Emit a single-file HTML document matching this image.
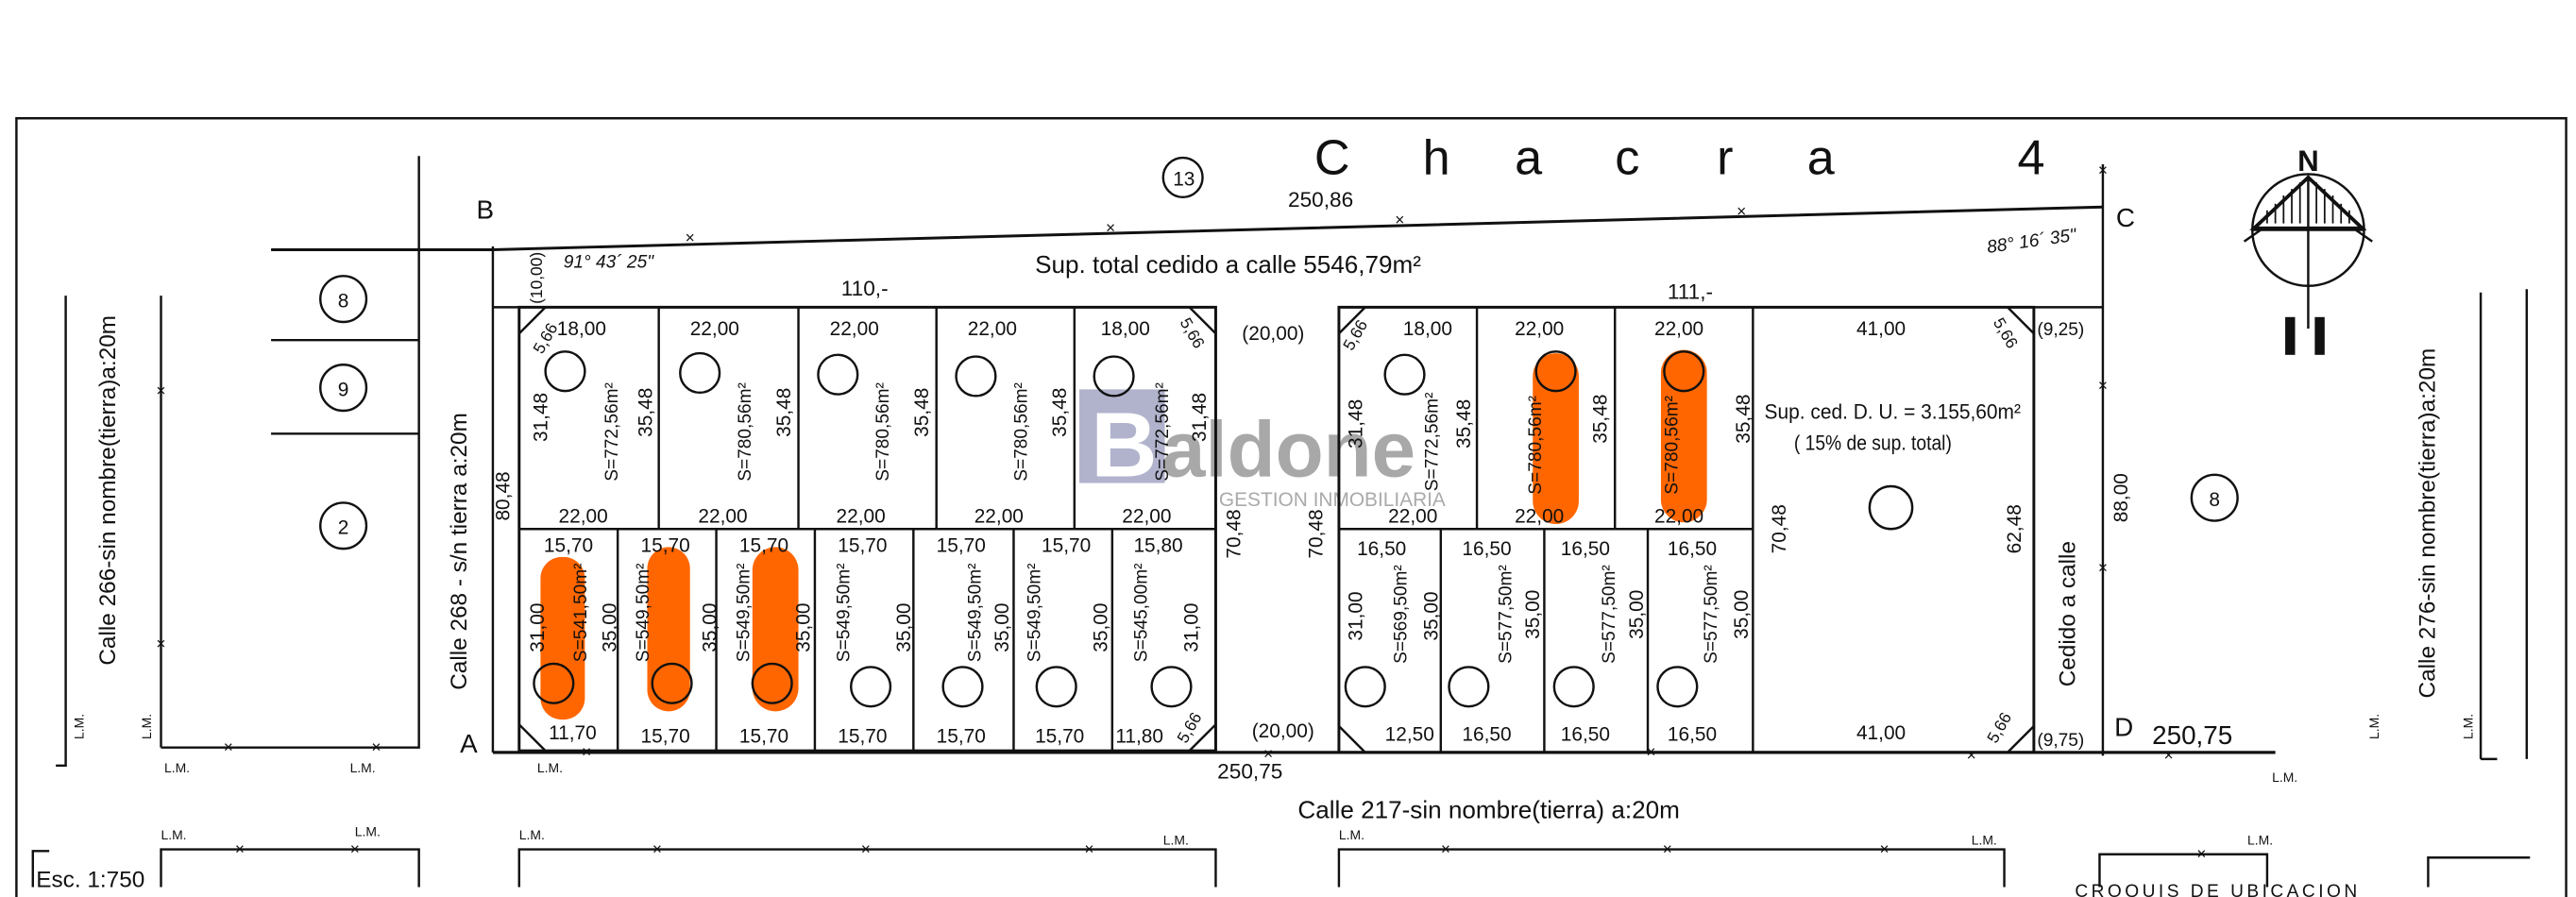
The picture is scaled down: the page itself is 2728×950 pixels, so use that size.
<!DOCTYPE html>
<html><head><meta charset="utf-8"><style>
html,body{margin:0;padding:0;background:#fff;}
svg{display:block;}
text{font-family:"Liberation Sans",sans-serif;fill:#111;}
</style></head><body>
<svg width="2728" height="950" viewBox="0 0 1568 546" preserveAspectRatio="none" xmlns="http://www.w3.org/2000/svg">
<!-- orange pills (under lines) -->
<g fill="#ff6600">
<rect x="329" y="339" width="27" height="99" rx="13"/><rect x="394" y="333" width="26" height="100" rx="13"/><rect x="458" y="333" width="28" height="100" rx="14"/>
<rect x="933" y="215" width="28" height="104" rx="14"/><rect x="1011" y="213" width="28" height="105" rx="14"/>
</g>
<!-- watermark -->
<rect x="657" y="237" width="52" height="57" fill="#9da0c0" opacity="0.8"/>
<text x="664" y="290" font-size="56" font-weight="bold" style="fill:#fff">B</text>
<text x="707" y="290" font-size="48" font-weight="bold" style="fill:#999" opacity="0.85">aldone</text>
<text x="742" y="308" font-size="12" style="fill:#aaa">GESTION INMOBILIARIA</text>
<g stroke="#111" fill="none" stroke-width="1.4">
<path d="M10 546 V72 H1562 V546"/>
<path d="M165 152 H300 L1280 126" stroke-width="1.7"/>
<path d="M300 150 V458"/>
<path d="M300 187 H740 M815 187 H1238"/>
<rect x="316" y="187" width="424" height="270" stroke-width="1.7"/>
<path d="M316 322 H740 M401 187 V322 M486 187 V322 M570 187 V322 M654 187 V322"/>
<path d="M376 322 V457 M436 322 V457 M496 322 V457 M556 322 V457 M617 322 V457 M677 322 V457"/>
<path d="M316 203 L332 187 M724 187 L740 203 M316 441 L332 457 M724 457 L740 441"/>
<rect x="815" y="187" width="423" height="271" stroke-width="1.7"/>
<path d="M815 322 H1067 M1067 187 V458 M899 187 V322 M983 187 V322"/>
<path d="M877 322 V458 M940 322 V458 M1003 322 V458"/>
<path d="M815 203 L831 187 M1222 187 L1238 203 M815 442 L831 458 M1222 458 L1238 442"/>
<path d="M1238 187 H1280 M1280 100 V460"/>
<path d="M300 458 H1385" stroke-width="1.9"/>
<path d="M98 455 H255 V95 M98 180 V455 M40 180 V466 H34"/>
<path d="M165 207 H255 M165 264 H255"/>
<path d="M1510 178 V462 M1510 462 H1520 M1538 176 V462"/>
<path d="M30 518 H20 V540 M98 540 V517 H255 V540 M316 540 V517 H740 V540 M815 540 V517 H1220 V540 M1278 540 V520 H1380 V540 M1478 540 V522 H1540"/>
<circle cx="344" cy="226" r="12"/><circle cx="426" cy="227" r="12"/><circle cx="510" cy="228" r="12"/><circle cx="594" cy="229" r="12"/><circle cx="678" cy="229" r="12"/>
<circle cx="337" cy="416" r="12"/><circle cx="409" cy="416" r="12"/><circle cx="470" cy="416" r="12"/><circle cx="530" cy="418" r="12"/><circle cx="586" cy="418" r="12"/><circle cx="643" cy="418" r="12"/><circle cx="713" cy="418" r="12"/>
<circle cx="855" cy="228" r="12"/><circle cx="947" cy="226" r="12"/><circle cx="1025" cy="226" r="12"/><circle cx="1151" cy="309" r="13"/>
<circle cx="831" cy="418" r="12"/><circle cx="894" cy="418" r="12"/><circle cx="958" cy="418" r="12"/><circle cx="1021" cy="418" r="12"/>
<circle cx="720" cy="108" r="12"/><circle cx="209" cy="182" r="14"/><circle cx="209" cy="236" r="14"/><circle cx="209" cy="320" r="14"/><circle cx="1348" cy="303" r="14"/>
<circle cx="1405" cy="140" r="34"/>
<path d="M1405 107 V200 M1366 147 L1376 140 M1444 147 L1434 140 M1371 140 H1439"/>
<path d="M1380 136 V128 M1385 136 V124 M1390 136 V119 M1395 136 V115 M1400 136 V111 M1410 136 V111 M1415 136 V115 M1420 136 V119 M1425 136 V124 M1430 136 V128" stroke-width="1"/>
<path d="M1405 108 L1372 139 H1438 Z" stroke-width="2.2"/>
</g>
<rect x="1391" y="193" width="6" height="23" fill="#111"/><rect x="1409" y="193" width="6" height="23" fill="#111"/>
<text x="1405" y="104" font-size="18" font-weight="bold" text-anchor="middle">N</text>
<g font-size="10" text-anchor="middle">
<text x="420" y="148">×</text><text x="676" y="142">×</text><text x="852" y="137">×</text><text x="1060" y="132">×</text><text x="1280" y="107">×</text>
<text x="1280" y="238">×</text><text x="1280" y="349">×</text>
<text x="98" y="241">×</text><text x="98" y="395">×</text><text x="139" y="458">×</text><text x="229" y="458">×</text>
<text x="357" y="461">×</text><text x="772" y="462">×</text><text x="1005" y="461">×</text><text x="1200" y="463">×</text><text x="1320" y="463">×</text>
<text x="146" y="520">×</text><text x="216" y="520">×</text><text x="400" y="520">×</text><text x="527" y="520">×</text><text x="663" y="520">×</text>
<text x="880" y="520">×</text><text x="1015" y="520">×</text><text x="1147" y="520">×</text><text x="1340" y="523">×</text>
</g>
<g font-size="30">
<text x="800" y="106">C</text><text x="866" y="106">h</text><text x="922" y="106">a</text><text x="983" y="106">c</text><text x="1045" y="106">r</text><text x="1100" y="106">a</text><text x="1228" y="106">4</text>
</g>
<text x="714" y="113" font-size="12">13</text>
<text x="290" y="133" font-size="16">B</text><text x="1288" y="138" font-size="16">C</text><text x="280" y="458" font-size="16">A</text><text x="1287" y="448" font-size="16">D</text>
<text x="784" y="126" font-size="13">250,86</text>
<text x="630" y="166" font-size="15">Sup. total cedido a calle 5546,79m²</text>
<text x="343" y="163" font-size="11" font-style="italic">91° 43´ 25"</text>
<text x="1210" y="154" font-size="11" font-style="italic" transform="rotate(-8 1210 154)">88° 16´ 35"</text>
<text transform="translate(330,185) rotate(-90)" font-size="10">(10,00)</text>
<text x="512" y="180" font-size="13">110,-</text><text x="1015" y="182" font-size="13">111,-</text>
<text x="756" y="207" font-size="12">(20,00)</text><text x="762" y="449" font-size="12">(20,00)</text>
<text x="741" y="474" font-size="13">250,75</text><text x="1310" y="453" font-size="16">250,75</text>
<text x="1240" y="204" font-size="11">(9,25)</text><text x="1240" y="454" font-size="11">(9,75)</text>
<text x="790" y="498" font-size="15">Calle 217-sin nombre(tierra) a:20m</text>
<text x="22" y="540" font-size="14">Esc. 1:750</text>
<text x="1263" y="546" font-size="11" letter-spacing="2">CROQUIS DE UBICACION</text>
<text x="1074" y="255" font-size="13" textLength="156" lengthAdjust="spacingAndGlyphs">Sup. ced.  D. U. = 3.155,60m²</text>
<text x="1092" y="274" font-size="13" textLength="96" lengthAdjust="spacingAndGlyphs">( 15% de sup. total)</text>
<g font-size="12">
<text x="1130" y="204">41,00</text><text x="1130" y="450">41,00</text>
<text x="339" y="204">18,00</text><text x="420" y="204">22,00</text><text x="505" y="204">22,00</text><text x="589" y="204">22,00</text><text x="670" y="204">18,00</text>
<text x="340" y="318">22,00</text><text x="425" y="318">22,00</text><text x="509" y="318">22,00</text><text x="593" y="318">22,00</text><text x="683" y="318">22,00</text>
<text x="331" y="336">15,70</text><text x="390" y="336">15,70</text><text x="450" y="336">15,70</text><text x="510" y="336">15,70</text><text x="570" y="336">15,70</text><text x="634" y="336">15,70</text><text x="690" y="336">15,80</text>
<text x="334" y="450">11,70</text><text x="390" y="452">15,70</text><text x="450" y="452">15,70</text><text x="510" y="452">15,70</text><text x="570" y="452">15,70</text><text x="630" y="452">15,70</text><text x="679" y="452">11,80</text>
<text x="854" y="204">18,00</text><text x="922" y="204">22,00</text><text x="1007" y="204">22,00</text>
<text x="845" y="318">22,00</text><text x="922" y="318">22,00</text><text x="1007" y="318">22,00</text>
<text x="826" y="338">16,50</text><text x="890" y="338">16,50</text><text x="950" y="338">16,50</text><text x="1015" y="338">16,50</text>
<text x="843" y="451">12,50</text><text x="890" y="451">16,50</text><text x="950" y="451">16,50</text><text x="1015" y="451">16,50</text>
<text x="330" y="216" font-size="10" transform="rotate(-60 330 216)">5,66</text>
<text x="718" y="196" font-size="10" transform="rotate(60 718 196)">5,66</text>
<text x="823" y="214" font-size="10" transform="rotate(-60 823 214)">5,66</text>
<text x="1213" y="196" font-size="10" transform="rotate(60 1213 196)">5,66</text>
<text x="1215" y="453" font-size="10" transform="rotate(-60 1215 453)">5,66</text>
<text x="722" y="453" font-size="10" transform="rotate(-60 722 453)">5,66</text>
</g>
<g font-size="12">
<text transform="translate(333,269) rotate(-90)">31,48</text>
<text transform="translate(397,266) rotate(-90)">35,48</text>
<text transform="translate(481,266) rotate(-90)">35,48</text>
<text transform="translate(565,266) rotate(-90)">35,48</text>
<text transform="translate(649,266) rotate(-90)">35,48</text>
<text transform="translate(734,269) rotate(-90)">31,48</text>
<text transform="translate(829,273) rotate(-90)">31,48</text>
<text transform="translate(895,273) rotate(-90)">35,48</text>
<text transform="translate(978,270) rotate(-90)">35,48</text>
<text transform="translate(1065,270) rotate(-90)">35,48</text>
<text transform="translate(310,317) rotate(-90)">80,48</text>
<text transform="translate(755,340) rotate(-90)">70,48</text>
<text transform="translate(805,340) rotate(-90)">70,48</text>
<text transform="translate(1087,337) rotate(-90)">70,48</text>
<text transform="translate(1230,337) rotate(-90)">62,48</text>
<text transform="translate(1295,318) rotate(-90)">88,00</text>
<text transform="translate(331,397) rotate(-90)">31,00</text>
<text transform="translate(375,397) rotate(-90)">35,00</text>
<text transform="translate(436,397) rotate(-90)">35,00</text>
<text transform="translate(493,397) rotate(-90)">35,00</text>
<text transform="translate(554,397) rotate(-90)">35,00</text>
<text transform="translate(614,397) rotate(-90)">35,00</text>
<text transform="translate(674,397) rotate(-90)">35,00</text>
<text transform="translate(729,397) rotate(-90)">31,00</text>
<text transform="translate(829,390) rotate(-90)">31,00</text>
<text transform="translate(875,390) rotate(-90)">35,00</text>
<text transform="translate(937,389) rotate(-90)">35,00</text>
<text transform="translate(1000,389) rotate(-90)">35,00</text>
<text transform="translate(1064,389) rotate(-90)">35,00</text>
</g>
<g font-size="11">
<text transform="translate(376,293) rotate(-90)">S=772,56m²</text>
<text transform="translate(457,293) rotate(-90)">S=780,56m²</text>
<text transform="translate(541,293) rotate(-90)">S=780,56m²</text>
<text transform="translate(625,293) rotate(-90)">S=780,56m²</text>
<text transform="translate(711,293) rotate(-90)">S=772,56m²</text>
<text transform="translate(875,299) rotate(-90)">S=772,56m²</text>
<text transform="translate(938,301) rotate(-90)">S=780,56m²</text>
<text transform="translate(1021,301) rotate(-90)">S=780,56m²</text>
<text transform="translate(357,403) rotate(-90)">S=541,50m²</text>
<text transform="translate(395,403) rotate(-90)">S=549,50m²</text>
<text transform="translate(456,403) rotate(-90)">S=549,50m²</text>
<text transform="translate(517,403) rotate(-90)">S=549,50m²</text>
<text transform="translate(597,403) rotate(-90)">S=549,50m²</text>
<text transform="translate(633,403) rotate(-90)">S=549,50m²</text>
<text transform="translate(698,403) rotate(-90)">S=545,00m²</text>
<text transform="translate(856,404) rotate(-90)">S=569,50m²</text>
<text transform="translate(920,404) rotate(-90)">S=577,50m²</text>
<text transform="translate(983,404) rotate(-90)">S=577,50m²</text>
<text transform="translate(1045,404) rotate(-90)">S=577,50m²</text>
</g>
<g font-size="14">
<text transform="translate(70,405) rotate(-90)">Calle 266-sin nombre(tierra)a:20m</text>
<text transform="translate(284,420) rotate(-90)">Calle 268 - s/n tierra a:20m</text>
<text transform="translate(1263,418) rotate(-90)">Cedido a calle</text>
<text transform="translate(1482,425) rotate(-90)">Calle 276-sin nombre(tierra)a:20m</text>
</g>
<g font-size="12" text-anchor="middle">
<text x="209" y="187">8</text><text x="209" y="241">9</text><text x="209" y="325">2</text><text x="1348" y="308">8</text>
</g>
<g font-size="8">
<text x="100" y="470">L.M.</text><text x="213" y="470">L.M.</text><text x="327" y="470">L.M.</text><text x="1383" y="476">L.M.</text>
<text x="98" y="511">L.M.</text><text x="216" y="509">L.M.</text><text x="316" y="511">L.M.</text><text x="708" y="514">L.M.</text>
<text x="815" y="511">L.M.</text><text x="1200" y="514">L.M.</text><text x="1368" y="514">L.M.</text>
<text transform="translate(51,450) rotate(-90)">L.M.</text><text transform="translate(92,450) rotate(-90)">L.M.</text>
<text transform="translate(1448,450) rotate(-90)">L.M.</text><text transform="translate(1505,450) rotate(-90)">L.M.</text>
</g>
</svg>
</body></html>
